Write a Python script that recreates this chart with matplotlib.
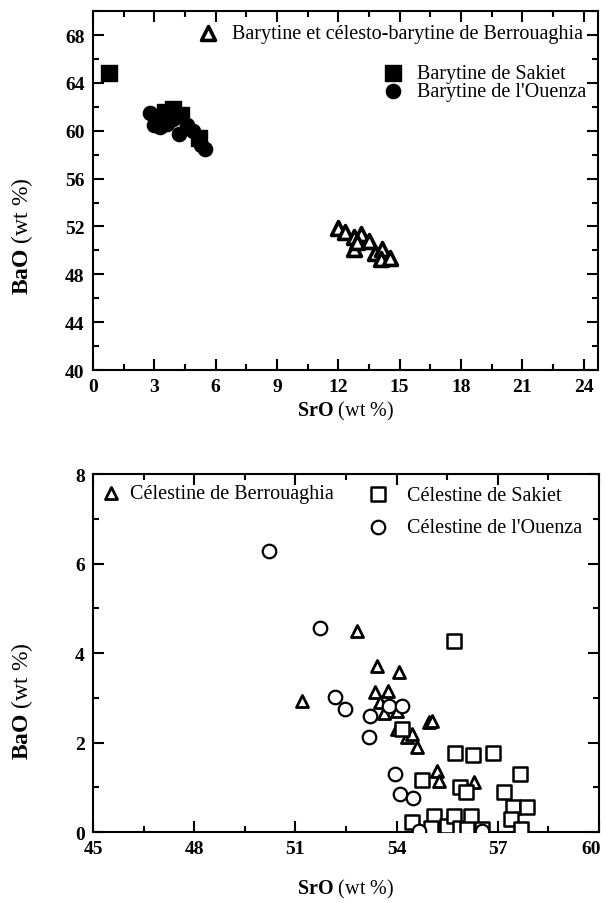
import numpy as np
import matplotlib
matplotlib.use("Agg")
import matplotlib.pyplot as plt
from matplotlib.ticker import MultipleLocator
from matplotlib.transforms import ScaledTranslation

plt.rcParams.update({
    'font.family': 'Liberation Serif',
    'mathtext.fontset': 'custom',
    'mathtext.rm': 'Liberation Serif',
    'mathtext.bf': 'Liberation Serif:bold',
    'axes.linewidth': 1.5,
})

# ---- top panel: barytine ----
berr_bar_sro = [12.0, 12.35, 12.75, 13.1, 12.75, 12.9, 13.5, 13.8, 14.15, 14.1, 14.55]
berr_bar_bao = [51.9, 51.5, 51.1, 51.4, 50.1, 50.7, 50.8, 49.8, 50.1, 49.3, 49.4]

sak_bar_sro = [0.8, 3.5, 3.9, 4.3, 5.2]
sak_bar_bao = [64.8, 61.6, 61.8, 61.3, 59.4]

oue_bar_sro = [2.8, 3.0, 3.3, 3.6, 3.9, 4.2, 4.6, 4.9, 5.3, 5.5]
oue_bar_bao = [61.5, 60.5, 60.3, 60.6, 61.0, 59.7, 60.5, 60.0, 58.8, 58.5]

# ---- bottom panel: celestine ----
berr_cel_sro = [52.83, 53.42, 54.08, 51.2, 53.37, 53.73, 53.52, 53.62, 54.01, 54.95, 55.05,
                54.01, 54.31, 54.45, 54.6, 55.2, 55.25, 56.28]
berr_cel_bao = [4.50, 3.72, 3.57, 2.93, 3.12, 3.16, 2.90, 2.67, 2.71, 2.45, 2.49,
                2.30, 2.12, 2.20, 1.89, 1.37, 1.15, 1.11]

sak_cel_sro = [55.69, 54.16, 55.74, 56.27, 56.86, 54.75, 55.87, 56.07, 54.46, 55.10, 55.02,
               55.50, 55.71, 55.89, 56.19, 56.09, 56.53, 57.65, 57.19, 57.45, 57.87, 57.39, 57.69]
sak_cel_bao = [4.28, 2.30, 1.77, 1.72, 1.77, 1.17, 1.00, 0.89, 0.22, 0.35, 0.10,
               0.14, 0.35, 0.10, 0.35, 0.07, 0.07, 1.30, 0.89, 0.57, 0.57, 0.29, 0.07]

oue_cel_sro = [50.23, 51.74, 52.18, 52.48, 53.22, 53.76, 54.16, 53.17, 53.96, 54.09, 54.50,
               54.66, 56.53]
oue_cel_bao = [6.27, 4.57, 3.01, 2.76, 2.60, 2.82, 2.82, 2.12, 1.30, 0.85, 0.75,
               0.02, 0.02]

fig = plt.figure(figsize=(6.06, 9.04), dpi=100)
ax1 = fig.add_axes([0.1535, 0.5896, 0.833, 0.397])
ax2 = fig.add_axes([0.1535, 0.0785, 0.835, 0.396])

# marker styles
top_tri = dict(s=100, marker='^', facecolor='white', edgecolor='black', linewidth=2.6)
top_sq = dict(s=120, marker='s', color='black')
top_ci = dict(s=105, marker='o', color='black')
bot_tri = dict(s=75, marker='^', facecolor='white', edgecolor='black', linewidth=2.0)
bot_sq = dict(s=95, marker='s', facecolor='white', edgecolor='black', linewidth=1.8)
bot_ci = dict(s=95, marker='o', facecolor='white', edgecolor='black', linewidth=1.6)

ax1.scatter(berr_bar_sro, berr_bar_bao, zorder=3, **top_tri)
ax1.scatter(sak_bar_sro, sak_bar_bao, zorder=3, **top_sq)
ax1.scatter(oue_bar_sro, oue_bar_bao, zorder=3, **top_ci)

ax2.scatter(berr_cel_sro, berr_cel_bao, zorder=3, **bot_tri)
ax2.scatter(sak_cel_sro, sak_cel_bao, zorder=3, **bot_sq)
ax2.scatter(oue_cel_sro, oue_cel_bao, zorder=3, **bot_ci)

ax1.set_xlim(0, 24.7)
ax1.set_ylim(40, 70)
ax1.set_xticks(np.arange(0, 25, 3))
ax1.set_yticks(np.arange(40, 69, 4))
ax1.xaxis.set_minor_locator(MultipleLocator(1.5))
ax1.yaxis.set_minor_locator(MultipleLocator(2))

ax2.set_xlim(45, 60)
ax2.set_ylim(0, 8)
ax2.set_xticks(np.arange(45, 61, 3))
ax2.set_yticks(np.arange(0, 9, 2))
ax2.xaxis.set_minor_locator(MultipleLocator(1.5))
ax2.yaxis.set_minor_locator(MultipleLocator(1))

for ax in (ax1, ax2):
    ax.tick_params(which='both', direction='in', top=True, right=True, width=1.5)
    ax.tick_params(which='major', length=8, pad=6, labelsize=14)
    ax.tick_params(which='minor', length=4)
    for lab in ax.get_xticklabels() + ax.get_yticklabels():
        lab.set_fontweight('bold')
    ax.set_xlabel(r'$\mathbf{SrO}$ (wt %)', fontsize=14.5)
    ax.set_ylabel(r'$\mathbf{BaO}$ (wt %)', fontsize=17)

# keep the "60" at the right edge inside the figure
last = ax2.get_xticklabels()[-1]
last.set_transform(last.get_transform() + ScaledTranslation(-6 / 72, 0, fig.dpi_scale_trans))

ax1.xaxis.set_label_coords(0.5, -0.081)
ax2.xaxis.set_label_coords(0.5, -0.126)
ax1.yaxis.set_label_coords(-0.115, 0.376)
ax2.yaxis.set_label_coords(-0.115, 0.369)

# legends
lfs = 14.5
h_tri = ax1.scatter([], [], **top_tri)
h_sq = ax1.scatter([], [], **top_sq)
h_ci = ax1.scatter([], [], **top_ci)
leg1 = ax1.legend([h_tri], ['Barytine et célesto-barytine de Berrouaghia'],
                  loc='center left', bbox_to_anchor=(0.207, 0.938), frameon=False,
                  fontsize=lfs, borderpad=0, borderaxespad=0, handlelength=1.0,
                  handletextpad=0.7)
ax1.add_artist(leg1)
ax1.legend([h_sq, h_ci], ['Barytine de Sakiet', "Barytine de l'Ouenza"],
           loc='upper left', bbox_to_anchor=(0.575, 0.852), frameon=False,
           fontsize=lfs, borderpad=0, borderaxespad=0, handlelength=1.0,
           handletextpad=0.65, labelspacing=-0.05)

g_tri = ax2.scatter([], [], **bot_tri)
g_sq = ax2.scatter([], [], **bot_sq)
g_ci = ax2.scatter([], [], **bot_ci)
leg2 = ax2.legend([g_tri], ['Célestine de Berrouaghia'],
                  loc='center left', bbox_to_anchor=(0.015, 0.946), frameon=False,
                  fontsize=lfs, borderpad=0, borderaxespad=0, handlelength=1.0,
                  handletextpad=0.45)
ax2.add_artist(leg2)
ax2.legend([g_sq, g_ci], ['Célestine de Sakiet', "Célestine de l'Ouenza"],
           loc='upper left', bbox_to_anchor=(0.543, 0.968), frameon=False,
           fontsize=lfs, borderpad=0, borderaxespad=0, handlelength=1.0,
           handletextpad=0.95, labelspacing=0.65)

fig.savefig('out.png', dpi=100)
